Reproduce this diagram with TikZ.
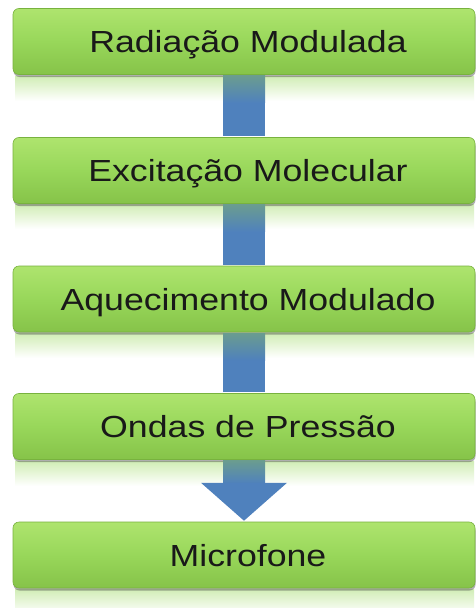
\documentclass[tikz,border=0pt]{standalone}
\usepackage{fontspec}
\setmainfont{Liberation Sans}[FakeStretch=1.17]
\usetikzlibrary{shadows,calc}
\definecolor{gtop}{HTML}{AEE46E}
\definecolor{gmid}{HTML}{98D75A}
\definecolor{gbot}{HTML}{86C349}
\definecolor{gedge}{HTML}{78B23E}
\definecolor{ablue}{HTML}{4F81BD}
\definecolor{ateal}{HTML}{6A9C90}
\tikzset{
  stagebox/.style={rounded corners=6pt, minimum width=462pt, minimum height=66pt,
    inner sep=0pt, text height=22pt, text depth=0pt,
    top color=gtop, bottom color=gbot, middle color=gmid,
    draw=gedge, line width=0.6pt,
    drop shadow={shadow xshift=0.5pt, shadow yshift=-2.5pt, opacity=0.45, fill=black!70},
    font=\fontsize{30.5}{36}\selectfont, text=black!90,
    execute at begin node=\hspace*{8pt}},
  reflect/.style={top color=gmid!45!white, bottom color=white, draw=none},
  shafttop/.style={top color=ateal, bottom color=ablue, draw=none},
}
\begin{document}
\begin{tikzpicture}[x=1pt,y=-1pt]
\useasboundingbox[fill=white] (0,0) rectangle (476,608);
% reflections
\foreach \yy in {75,203,332,460,588}{
  \fill[reflect] (15,\yy+1) rectangle (474,\yy+26);
}
\node[stagebox] (b1) at (244,41.5) {Radiação Modulada};
\node[stagebox] (b2) at (244,170.5) {Excitação Molecular};
\node[stagebox] (b3) at (244,299) {Aquecimento Modulado};
\node[stagebox] (b4) at (244,426.5) {Ondas de Pressão};
\node[stagebox] (b5) at (244,555) {Microfone};
% connectors
\foreach \a/\b in {b1/b2,b2/b3,b3/b4}{
  \fill[ablue] ($(\a.south)+(-21,1)$) rectangle ($(\b.north)+(21,-1)$);
  \fill[shafttop] ($(\a.south)+(-21,1)$) rectangle ($(\a.south)+(21,28)$);
}
\fill[ablue] ($(b4.south)+(-21,1)$) rectangle ($(b4.south)+(21,24)$);
\fill[shafttop] ($(b4.south)+(-21,1)$) rectangle ($(b4.south)+(21,24)$);
\coordinate (tip) at ($(b5.north)+(0,-1)$);
\fill[ablue] ($(b4.south)+(-43,23)$) -- ($(b4.south)+(43,23)$) -- (tip) -- cycle;
\end{tikzpicture}
\end{document}
